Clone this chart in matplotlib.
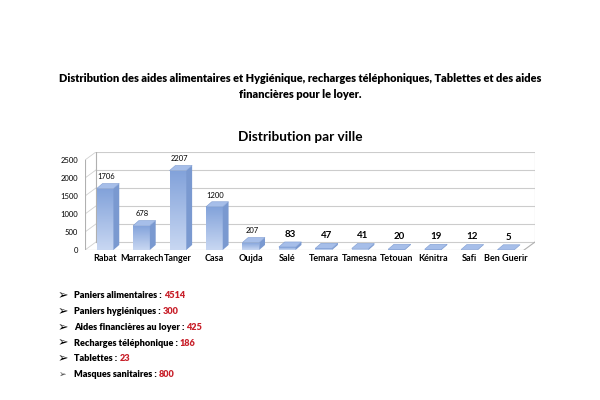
import matplotlib.pyplot as plt
import numpy as np
from matplotlib.patches import Polygon, Rectangle
from matplotlib.colors import LinearSegmentedColormap

# bar chart data
cities = ["Rabat", "Marrakech", "Tanger", "Casa", "Oujda", "Salé", "Temara",
          "Tamesna", "Tetouan", "Kénitra", "Safi", "Ben Guerir"]
counts = [1706, 678, 2207, 1200, 207, 83, 47, 41, 20, 19, 12, 5]
y_ticks = [0, 500, 1000, 1500, 2000, 2500]

# summary list under the chart
items = ["Paniers alimentaires", "Paniers hygiéniques", "Aides financières au loyer",
         "Recharges téléphonique", "Tablettes", "Masques sanitaires"]
amounts = [4514, 300, 425, 186, 23, 800]

fam = ["Lato", "DejaVu Sans"]
plt.rcParams['font.family'] = fam

fig = plt.figure(figsize=(6, 4), dpi=100)
fig.patch.set_facecolor("white")

fig.text(0.5, 1 - 78/400, "Distribution des aides alimentaires et Hygiénique, recharges téléphoniques, Tablettes et des aides",
         ha="center", va="center", fontsize=7.9, fontweight="heavy")
fig.text(0.5, 1 - 95/400, "financières pour le loyer.",
         ha="center", va="center", fontsize=7.9, fontweight="heavy")
fig.text(0.5, 1 - 137/400, "Distribution par ville",
         ha="center", va="center", fontsize=9.8, fontweight="bold")

# axes placed over the plot area (pixels 85..535 x, 152..250 y)
ax = fig.add_axes([85/600, 150/400, 450/600, 98/400])
n = len(cities)
xmin, xmax = -0.55, 11.8
ymax = 2722
for s in ax.spines.values():
    s.set_visible(False)

wall_dx, wall_dy = 0.3, 222
edge = "#b0b0b0"
# back wall gridlines and frame
for t in y_ticks:
    ax.plot([xmin + wall_dx, xmax], [t + wall_dy, t + wall_dy], color="#cccccc", lw=0.8, zorder=1)
    ax.plot([xmin, xmin + wall_dx], [t, t + wall_dy], color="#d0d0d0", lw=0.6, zorder=1)
ax.plot([xmin + wall_dx, xmin + wall_dx], [wall_dy, ymax], color=edge, lw=0.8, zorder=1)
ax.plot([xmax, xmax], [wall_dy, ymax], color=edge, lw=0.8, zorder=1)
ax.plot([xmin, xmin], [0, y_ticks[-1]], color=edge, lw=0.8, zorder=1)
ax.plot([xmin, xmax - wall_dx], [0, 0], color=edge, lw=0.8, zorder=1)
ax.plot([xmax - wall_dx, xmax], [0, wall_dy], color=edge, lw=0.8, zorder=1)

w = 0.46
dx, dy = 0.16, 140
grad = np.linspace(0, 1, 64).reshape(-1, 1)
cmap = LinearSegmentedColormap.from_list("b", ["#c8d7f2", "#82a2da"])
for i, v in enumerate(counts):
    x0, x1 = i - w/2, i + w/2
    front = Rectangle((x0, 0), w, v, facecolor="none", edgecolor="none", zorder=3)
    ax.add_patch(front)
    im = ax.imshow(grad, extent=(x0, x1, 0, max(v, 1)), origin="lower", cmap=cmap,
                   aspect="auto", zorder=3)
    im.set_clip_path(front)
    side = Polygon([(x1, 0), (x1 + dx, dy), (x1 + dx, v + dy), (x1, v)],
                   facecolor="#7a99d0", edgecolor="none", zorder=3)
    top = Polygon([(x0, v), (x1, v), (x1 + dx, v + dy), (x0 + dx, v + dy)],
                  facecolor="#a6bee9", edgecolor="#7f9dd2", lw=0.4, zorder=4)
    ax.add_patch(side)
    ax.add_patch(top)
    if v >= 200:
        ax.text(i + dx/2 - 0.05, v + dy + 90, str(v), ha="center", va="bottom", fontsize=5.5, zorder=5)
    else:
        ax.text(i + dx/2, v + dy + 90, str(v), ha="center", va="bottom", fontsize=7, fontweight="bold", zorder=5)
ax.set_xlim(xmin, xmax)
ax.set_ylim(0, ymax)

ax.set_yticks(y_ticks)
ax.set_yticklabels([str(t) for t in y_ticks], fontsize=5.5)
ax.set_xticks(range(n))
ax.set_xticklabels(cities, fontsize=6.5, fontweight="bold")
ax.tick_params(length=0, pad=3)
ax.tick_params(axis="y", pad=5)

# bullet list
for k, (lab, val) in enumerate(zip(items, amounts)):
    yy = 1 - (296 + k * 15.7) / 400
    last = k == len(items) - 1
    fig.text(63/600, yy, "➢", ha="center", va="center",
             fontsize=6.5 if last else 9, color="#444444" if last else "black",
             family=["DejaVu Sans"])
    t = fig.text(74/600, yy, lab + " : ", ha="left", va="center", fontsize=6.6,
                 fontweight="heavy")
    fig.canvas.draw()
    bb = t.get_window_extent()
    fig.text(bb.x1 / 600, yy, str(val), ha="left", va="center", fontsize=6.6,
             fontweight="heavy", color="#c8202a")

fig.savefig("out.png", dpi=100)
